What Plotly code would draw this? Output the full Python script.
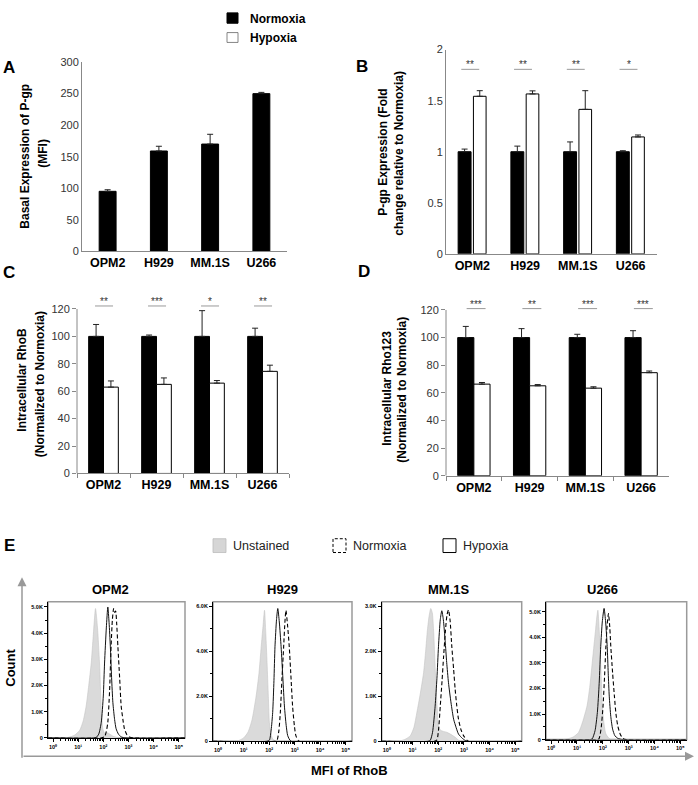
import plotly.graph_objects as go

W, H = 698, 785
FONT = "Liberation Sans, Arial, Helvetica, sans-serif"

# ---------------- data ----------------
cells = ["OPM2", "H929", "MM.1S", "U266"]

a_basal = [95, 159, 170, 250]
a_basal_err = [2.5, 7.5, 15.5, 2]

b_norm = [1, 1, 1, 1]
b_norm_err = [0.026, 0.055, 0.096, 0.01]
b_hyp = [1.543, 1.566, 1.415, 1.145]
b_hyp_err = [0.055, 0.03, 0.183, 0.019]
b_sig = ["**", "**", "**", "*"]

c_norm = [100, 100, 100, 100]
c_norm_err = [8.7, 1.0, 18.8, 6.0]
c_hyp = [63, 65, 65.9, 74.5]
c_hyp_err = [4.5, 4.7, 1.9, 4.5]
c_sig = ["**", "***", "*", "**"]

d_norm = [100, 100, 100, 100]
d_norm_err = [8.1, 6.5, 2.4, 5.0]
d_hyp = [66.3, 65.1, 63.4, 74.6]
d_hyp_err = [1.2, 0.9, 1.0, 1.2]
d_sig = ["***", "**", "***", "***"]

# histogram curves: x = log10(MFI of RhoB), y = count (thousands)
opm2_uns_x = [-0.2, 0.4, 0.6, 0.85, 1.06, 1.2, 1.32, 1.42, 1.52, 1.6, 1.69, 1.77, 1.85, 1.92, 1.98, 2.05, 2.15, 2.25, 2.4, 2.65, 5.25]
opm2_uns_y = [0, 0, 0.02, 0.1, 0.29, 0.65, 1.23, 2.0, 2.86, 3.9, 4.94, 4.2, 2.86, 1.1, 0.35, 0.18, 0.2, 0.15, 0.06, 0, 0]
opm2_hyp_x = [-0.2, 1.6, 1.72, 1.82, 1.92, 2.0, 2.05, 2.12, 2.18, 2.23, 2.28, 2.33, 2.38, 2.45, 2.51, 2.6, 2.71, 2.9, 5.25]
opm2_hyp_y = [0, 0, 0.02, 0.15, 0.6, 1.6, 2.86, 4.2, 5.0, 4.4, 3.5, 2.3, 1.36, 0.7, 0.35, 0.15, 0.04, 0, 0]
opm2_nor_x = [-0.2, 1.9, 2.05, 2.12, 2.18, 2.25, 2.31, 2.36, 2.41, 2.45, 2.49, 2.53, 2.58, 2.65, 2.71, 2.78, 2.84, 2.94, 3.04, 3.2, 5.25]
opm2_nor_y = [0, 0, 0.05, 0.25, 0.6, 1.8, 3.5, 4.5, 4.94, 4.8, 4.85, 4.4, 3.5, 2.3, 1.23, 0.7, 0.35, 0.12, 0.04, 0, 0]

h929_uns_x = [-0.2, 0.6, 0.78, 1.0, 1.17, 1.33, 1.49, 1.6, 1.69, 1.76, 1.82, 1.87, 1.92, 1.97, 2.01, 2.07, 2.14, 2.3, 5.25]
h929_uns_y = [0, 0, 0.02, 0.15, 0.4, 0.95, 2.0, 3.0, 4.2, 5.1, 5.82, 4.8, 3.47, 2.0, 0.84, 0.35, 0.1, 0, 0]
h929_hyp_x = [-0.2, 1.9, 2.01, 2.08, 2.14, 2.19, 2.23, 2.29, 2.34, 2.4, 2.47, 2.54, 2.6, 2.67, 2.73, 2.86, 5.25]
h929_hyp_y = [0, 0, 0.05, 0.5, 1.28, 2.7, 4.2, 5.4, 5.9, 5.3, 4.2, 2.8, 1.57, 0.7, 0.25, 0, 0]
h929_nor_x = [-0.2, 2.2, 2.31, 2.38, 2.44, 2.5, 2.57, 2.62, 2.66, 2.72, 2.79, 2.86, 2.92, 2.99, 3.05, 3.18, 5.25]
h929_nor_y = [0, 0, 0.05, 0.45, 1.28, 2.7, 4.2, 5.3, 5.82, 5.2, 4.2, 2.8, 1.57, 0.7, 0.25, 0, 0]

mm1s_uns_x = [-0.2, 0.4, 0.52, 0.7, 0.91, 1.05, 1.17, 1.3, 1.43, 1.51, 1.58, 1.65, 1.71, 1.77, 1.82, 1.87, 1.92, 1.97, 2.01, 2.1, 2.2, 2.33, 2.47, 2.66, 2.86, 5.25]
mm1s_uns_y = [0, 0, 0.01, 0.04, 0.12, 0.3, 0.64, 1.05, 1.52, 2.0, 2.47, 2.8, 2.95, 2.85, 2.47, 1.8, 1.15, 0.65, 0.34, 0.24, 0.22, 0.2, 0.16, 0.09, 0, 0]
mm1s_hyp_x = [-0.2, 1.6, 1.69, 1.78, 1.88, 1.95, 2.01, 2.08, 2.14, 2.2, 2.27, 2.33, 2.4, 2.5, 2.6, 2.7, 2.79, 2.95, 3.12, 5.25]
mm1s_hyp_y = [0, 0, 0.02, 0.2, 0.78, 1.4, 2.1, 2.7, 2.9, 2.7, 2.23, 1.75, 1.3, 0.85, 0.49, 0.3, 0.16, 0.06, 0, 0]
mm1s_nor_x = [-0.2, 1.85, 1.95, 2.02, 2.08, 2.15, 2.21, 2.28, 2.34, 2.4, 2.46, 2.53, 2.6, 2.66, 2.72, 2.79, 2.89, 2.99, 3.18, 5.25]
mm1s_nor_y = [0, 0, 0.03, 0.3, 0.78, 1.35, 1.89, 2.45, 2.8, 2.92, 2.7, 2.1, 1.6, 1.15, 0.8, 0.49, 0.25, 0.12, 0, 0]

u266_uns_x = [-0.2, 0.45, 0.6, 0.85, 1.06, 1.22, 1.39, 1.5, 1.59, 1.66, 1.72, 1.77, 1.81, 1.85, 1.89, 1.94, 1.98, 2.05, 2.12, 2.31, 5.25]
u266_uns_y = [0, 0, 0.02, 0.1, 0.28, 0.7, 1.32, 2.1, 3.0, 3.7, 4.29, 4.8, 5.06, 4.5, 3.64, 2.4, 1.32, 0.6, 0.22, 0, 0]
u266_hyp_x = [-0.2, 1.5, 1.59, 1.7, 1.79, 1.86, 1.92, 1.98, 2.05, 2.11, 2.17, 2.21, 2.25, 2.31, 2.38, 2.47, 2.58, 2.78, 5.25]
u266_hyp_y = [0, 0, 0.03, 0.35, 1.06, 2.2, 3.64, 4.6, 5.13, 4.6, 3.64, 2.6, 1.7, 0.9, 0.41, 0.15, 0.05, 0, 0]
u266_nor_x = [-0.2, 1.75, 1.85, 1.93, 2.01, 2.07, 2.12, 2.17, 2.22, 2.27, 2.31, 2.38, 2.45, 2.51, 2.58, 2.68, 2.78, 2.91, 5.25]
u266_nor_y = [0, 0, 0.03, 0.4, 1.32, 2.5, 3.64, 4.5, 4.93, 4.4, 3.64, 2.6, 1.7, 1.0, 0.54, 0.2, 0.05, 0, 0]

hist_ymax = [5, 6, 3, 5]
hist_ystep = [1, 2, 1, 1]
hist_ytop = [5.2, 6.2, 3.1, 5.39]
decades = [0, 1, 2, 3, 4, 5]

# ---------------- helpers ----------------
def px_x(p):
    return p / W

def px_y(p):
    return 1 - p / H

fig = go.Figure()
shapes = []
ann = []

def bar(x, y, err, color, xa, ya, offset, width, line_color="black"):
    fig.add_trace(go.Bar(
        x=x, y=y, xaxis=xa, yaxis=ya, offset=offset, width=width,
        marker=dict(color=color, line=dict(color=line_color, width=1)),
        error_y=dict(type="data", array=err, arrayminus=[0] * len(err), symmetric=False,
                     color="#222", thickness=1, width=3),
        showlegend=False, hoverinfo="x+y"))

# Panel A
bar(cells, a_basal, a_basal_err, "black", "x", "y", -0.165, 0.33)
# Panel B
bar(cells, b_norm, b_norm_err, "black", "x2", "y2", -0.27, 0.245)
bar(cells, b_hyp, b_hyp_err, "white", "x2", "y2", 0.02, 0.24)
# Panel C
bar(cells, c_norm, c_norm_err, "black", "x3", "y3", -0.28, 0.28)
bar(cells, c_hyp, c_hyp_err, "white", "x3", "y3", 0.0, 0.28)
# Panel D
bar(cells, d_norm, d_norm_err, "black", "x4", "y4", -0.29, 0.29)
bar(cells, d_hyp, d_hyp_err, "white", "x4", "y4", 0.0, 0.29)

def sig_marks(sig, xa, ya, yval, lo, hi):
    for i, s in enumerate(sig):
        shapes.append(dict(type="line", xref=xa, yref=ya, x0=i + lo, x1=i + hi, y0=yval, y1=yval,
                           line=dict(color="#999", width=1)))
        ann.append(dict(xref=xa, yref=ya, x=i + (lo + hi) / 2, y=yval, text=s, showarrow=False,
                        yanchor="bottom", yshift=-3, font=dict(size=10, color="#333", family=FONT)))

sig_marks(b_sig, "x2", "y2", 1.807, -0.21, 0.13)
sig_marks(c_sig, "x3", "y3", 122.2, -0.16, 0.18)
sig_marks(d_sig, "x4", "y4", 121.0, -0.13, 0.21)

# histograms
hist = [
    (opm2_uns_x, opm2_uns_y, opm2_nor_x, opm2_nor_y, opm2_hyp_x, opm2_hyp_y),
    (h929_uns_x, h929_uns_y, h929_nor_x, h929_nor_y, h929_hyp_x, h929_hyp_y),
    (mm1s_uns_x, mm1s_uns_y, mm1s_nor_x, mm1s_nor_y, mm1s_hyp_x, mm1s_hyp_y),
    (u266_uns_x, u266_uns_y, u266_nor_x, u266_nor_y, u266_hyp_x, u266_hyp_y),
]
for k, (ux, uy, nx, ny, hx, hy) in enumerate(hist):
    xa, ya = "x%d" % (k + 5), "y%d" % (k + 5)
    fig.add_trace(go.Scatter(x=ux, y=uy, xaxis=xa, yaxis=ya, mode="lines", fill="tozeroy",
                             fillcolor="#dadada", line=dict(color="#c4c4c4", width=0.6, shape="spline", smoothing=0.6),
                             showlegend=False, hoverinfo="skip"))
    fig.add_trace(go.Scatter(x=nx, y=ny, xaxis=xa, yaxis=ya, mode="lines",
                             line=dict(color="black", width=1.1, dash="4px,2.5px", shape="spline", smoothing=0.6),
                             showlegend=False, hoverinfo="skip"))
    fig.add_trace(go.Scatter(x=hx, y=hy, xaxis=xa, yaxis=ya, mode="lines",
                             line=dict(color="#111", width=1, shape="spline", smoothing=0.6),
                             showlegend=False, hoverinfo="skip"))

# ---------------- axes ----------------
tickf = dict(family=FONT, size=11, color="#333")
catf = dict(family=FONT, size=12.5, color="black", weight="bold")
AX = "#888"

def bar_axes(n, xdom, ydom, yrange, tickvals, ticktext, with_ticks, yline=True):
    sx = "" if n == 1 else str(n)
    fig.update_layout(**{
        "xaxis" + sx: dict(domain=[px_x(xdom[0]), px_x(xdom[1])], anchor="y" + sx, type="category",
                           showline=True, linecolor=AX, linewidth=1, showgrid=False, zeroline=False,
                           ticks="outside" if with_ticks else "", tickson="boundaries", ticklen=4,
                           tickcolor=AX, tickfont=catf, range=[-0.5, 3.5], fixedrange=True),
        "yaxis" + sx: dict(domain=[px_y(ydom[0]), px_y(ydom[1])], anchor="x" + sx, range=yrange,
                           showline=yline, linecolor=AX, linewidth=1, showgrid=False, zeroline=False,
                           tickvals=tickvals, ticktext=ticktext, tickfont=tickf,
                           ticks="outside" if with_ticks else "", ticklen=4, tickcolor=AX, fixedrange=True),
    })

bar_axes(1, (82, 287), (249, 57), [0, 300], [0, 50, 100, 150, 200, 250, 300],
         ["0", "50", "100", "150", "200", "250", "300"], False)
bar_axes(2, (446, 657), (251.7, 44.3), [0, 2], [0, 0.5, 1, 1.5, 2],
         ["0", "0.5", "1", "1.5", "2"], False)
c_top = 474.7 - 131 * (474.7 - 307.7) / 120
d_top = 477 - 131 * (477 - 308.7) / 120
bar_axes(3, (77, 289), (474.7, c_top), [0, 131], [0, 20, 40, 60, 80, 100, 120],
         ["0", "20", "40", "60", "80", "100", "120"], True, yline=False)
bar_axes(4, (446, 669), (477, d_top), [0, 131], [0, 20, 40, 60, 80, 100, 120],
         ["0", "20", "40", "60", "80", "100", "120"], True, yline=False)
for xa, ya in (("x3", "y3"), ("x4", "y4")):
    shapes.append(dict(type="line", xref=xa + " domain", yref=ya, x0=0, x1=0, y0=0, y1=120,
                       line=dict(color=AX, width=1)))

hist_dom = [((48, 185), (743.3, 605)), ((213, 352), (746.7, 605)),
            ((381.7, 521.7), (746.7, 605)), ((546, 686.7), (745, 605))]
sup = ["\u2070", "\u00b9", "\u00b2", "\u00b3", "\u2074", "\u2075"]
minor_x = [d + v for d in range(0, 5) for v in (0.301, 0.477, 0.602, 0.699, 0.778, 0.845, 0.903, 0.954)]
smallf = dict(family=FONT, size=5.5, color="black", weight="bold")
for k in range(4):
    n = k + 5
    (x0, x1), (yb, yt) = hist_dom[k]
    yv = list(range(0, hist_ymax[k] + 1, hist_ystep[k]))
    yt_txt = ["0" if v == 0 else "%.1fK" % v for v in yv]
    fig.update_layout(**{
        "xaxis%d" % n: dict(domain=[px_x(x0), px_x(x1)], anchor="y%d" % n, range=[-0.2, 5.25],
                            showline=True, linecolor="black", linewidth=1, showgrid=False, zeroline=False,
                            tickvals=decades, ticktext=["10" + sup[d] for d in decades], tickfont=smallf,
                            ticks="outside", ticklen=3, tickcolor="black",
                            minor=dict(tickvals=minor_x, ticks="outside", ticklen=2, tickcolor="black"),
                            fixedrange=True),
        "yaxis%d" % n: dict(domain=[px_y(yb), px_y(yt)], anchor="x%d" % n, range=[0, hist_ytop[k]],
                            showline=True, linecolor="black", linewidth=1, showgrid=False, zeroline=False,
                            tickvals=yv, ticktext=yt_txt, tickfont=smallf, ticks="outside", ticklen=3,
                            tickcolor="black",
                            minor=dict(dtick=hist_ystep[k] / 2, ticks="outside", ticklen=2, tickcolor="black"),
                            fixedrange=True),
    })
    shapes.append(dict(type="rect", xref="x%d domain" % n, yref="y%d domain" % n, x0=0, x1=1, y0=0, y1=1,
                       line=dict(color="#9a9a9a", width=1.5), layer="below"))

# ---------------- titles / labels ----------------
def txt(x, y, s, size=12, bold=True, angle=0, color="black", xanchor="center", yanchor="middle"):
    ann.append(dict(xref="paper", yref="paper", x=px_x(x), y=px_y(y), text=s, showarrow=False,
                    textangle=angle, xanchor=xanchor, yanchor=yanchor,
                    font=dict(family=FONT, size=size, color=color, weight="bold" if bold else "normal")))

# panel letters
txt(9, 62, "A", 17)
txt(362, 61, "B", 17)
txt(9, 271, "C", 17)
txt(364, 270, "D", 17)
txt(9, 548, "E", 17)

# y titles
txt(25, 153, "Basal Expression of P-gp", 12, angle=-90)
txt(43, 150, "(MFI)", 12, angle=-90)
txt(383, 149, "P-gp Expression (Fold", 12, angle=-90)
txt(399, 150, "change relative to Normoxia)", 12, angle=-90)
txt(22.5, 380, "Intracellular RhoB", 12, angle=-90)
txt(40, 384, "(Normalized to Normoxia)", 12, angle=-90)
txt(386.7, 388, "Intracellular Rho123", 12, angle=-90)
txt(401.7, 390, "(Normalized to Normoxia)", 12, angle=-90)

# top legend
shapes.append(dict(type="rect", xref="paper", yref="paper", x0=px_x(227), x1=px_x(238), y0=px_y(17.5), y1=px_y(7),
                   fillcolor="black", line=dict(color="black", width=1)))
shapes.append(dict(type="rect", xref="paper", yref="paper", x0=px_x(227), x1=px_x(238), y0=px_y(37), y1=px_y(27),
                   fillcolor="white", line=dict(color="#666", width=0.8)))
txt(248, 13, "Normoxia", 12, xanchor="left")
txt(248, 32, "Hypoxia", 12, xanchor="left")

# E legend
LY = 548
shapes.append(dict(type="rect", xref="paper", yref="paper", x0=px_x(213), x1=px_x(226), y0=px_y(LY + 7), y1=px_y(LY - 7),
                   fillcolor="#d6d6d6", line=dict(color="#bbb", width=0.8)))
shapes.append(dict(type="rect", xref="paper", yref="paper", x0=px_x(333), x1=px_x(346), y0=px_y(LY + 7), y1=px_y(LY - 7),
                   fillcolor="white", line=dict(color="black", width=1, dash="3px,2px")))
shapes.append(dict(type="rect", xref="paper", yref="paper", x0=px_x(443), x1=px_x(456), y0=px_y(LY + 7), y1=px_y(LY - 7),
                   fillcolor="white", line=dict(color="black", width=1)))
txt(231, LY, "Unstained", 12.5, bold=False, xanchor="left", color="#222")
txt(351, LY, "Normoxia", 12.5, bold=False, xanchor="left", color="#222")
txt(461, LY, "Hypoxia", 12.5, bold=False, xanchor="left", color="#222")

# histogram titles
for name, cx in zip(cells, (110, 282, 449, 602)):
    txt(cx, 593, name, 13)

txt(11, 672, "Count", 13, angle=-90)
txt(349, 776, "MFI of RhoB", 13)

# big gray arrows
ann.append(dict(xref="paper", yref="paper", x=px_x(22), y=px_y(580), ax=0, ay=182, axref="pixel", ayref="pixel",
                text="", showarrow=True, arrowhead=2, arrowsize=1.2, arrowwidth=1.5, arrowcolor="#999"))
ann.append(dict(xref="paper", yref="paper", x=px_x(694), y=px_y(762), ax=-672, ay=0, axref="pixel", ayref="pixel",
                text="", showarrow=True, arrowhead=2, arrowsize=1.2, arrowwidth=1.5, arrowcolor="#999"))

fig.update_layout(
    width=W, height=H, margin=dict(l=0, r=0, t=0, b=0),
    paper_bgcolor="white", plot_bgcolor="rgba(0,0,0,0)",
    barmode="overlay", font=dict(family=FONT, color="black"),
    shapes=shapes, annotations=ann, showlegend=False,
)
fig.write_html("out.html", config={"displayModeBar": False},
               post_script="document.body.style.margin='0px';document.body.style.overflow='hidden';")
